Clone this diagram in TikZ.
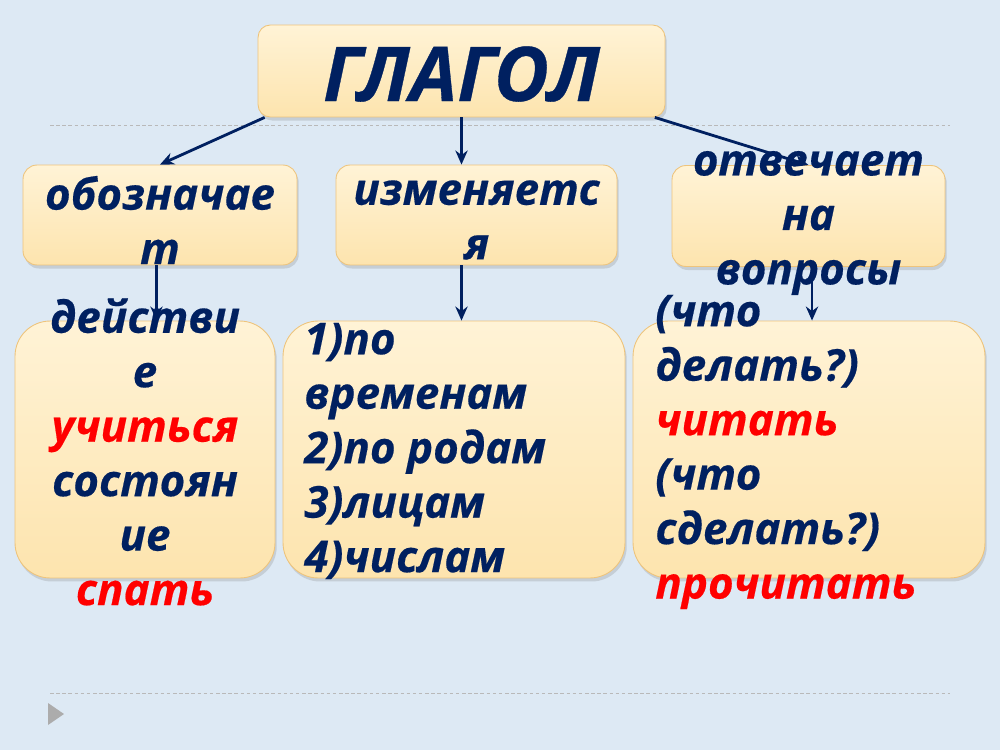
\documentclass[tikz,border=0pt]{standalone}
\usepackage{fontspec}
\setmainfont{Open Sans}
\newfontfamily\heavyfont{Open Sans}[FakeBold=0.4]
\usetikzlibrary{arrows.meta,shadows}

\definecolor{navy}{RGB}{0,32,96}
\definecolor{sky}{RGB}{221,233,244}
\definecolor{creamtop}{RGB}{255,243,214}
\definecolor{creambot}{RGB}{253,228,174}
\definecolor{rim}{RGB}{238,196,124}

\begin{document}
\begin{tikzpicture}[x=0.02cm,y=-0.02cm,
    card/.style={draw=rim, line width=0.5pt, rounded corners=8pt,
      top color=creamtop, bottom color=creambot,
      drop shadow={opacity=0.25, shadow xshift=1pt, shadow yshift=-2pt}},
    word/.style={text=navy, inner sep=0pt,
      font=\fontsize{25}{31}\selectfont\heavyfont\bfseries\itshape},
    arr/.style={navy, line width=1.6pt, -{Stealth[length=8pt,width=7pt]}},
    dots/.style={gray!55, line width=0.5pt, dash pattern=on 2pt off 1.5pt}]
  \fill[sky] (0,0) rectangle (1000,750);
  \useasboundingbox (0,0) rectangle (1000,750);
  \draw[dots] (50,125) -- (950,125);
  \draw[dots] (50,693) -- (950,693);
  \fill[gray!65] (48,703) -- (64,714) -- (48,725) -- cycle;

  % boxes
  \node[card, rounded corners=7pt, minimum width=8.14cm, minimum height=1.84cm] (verb) at (461.5,71) {};
  \node[card, minimum width=5.48cm, minimum height=2cm] (mean) at (160,215) {};
  \node[card, minimum width=5.62cm, minimum height=2cm] (change) at (476.5,215) {};
  \node[card, minimum width=5.46cm, minimum height=2.02cm] (answer) at (808.5,216) {};
  \node[card, rounded corners=20pt, minimum width=5.2cm, minimum height=5.14cm] (act) at (145,449.5) {};
  \node[card, rounded corners=20pt, minimum width=6.84cm, minimum height=5.14cm] (forms) at (454,449.5) {};
  \node[card, rounded corners=20pt, minimum width=7.04cm, minimum height=5.14cm] (quest) at (809,449.5) {};

  % arrows
  \draw[arr] ([xshift=4pt]verb.south west) -- (mean.north);
  \draw[arr] (verb.south) -- (verb.south |- change.north);
  \draw[arr] ([xshift=-6pt]verb.south east) -- (answer.north);
  \draw[arr] ([xshift=-2pt]mean.south) -- ([xshift=-2pt]mean.south |- act.north);
  \draw[arr] (verb.south |- change.south) -- (verb.south |- forms.north);
  \draw[arr] ([xshift=2pt]answer.south) -- ([xshift=2pt]answer.south |- quest.north);

  % texts
  \node[word, font=\fontsize{43}{43}\selectfont\heavyfont\bfseries\itshape] (verbt) at (461.5,74) {ГЛАГОЛ};
  \node[word, align=center] (meant) at (160,220) {обозначае\\т};
  \node[word, align=center] (changet) at (476.5,220) {изменяетс\\я};
  \node[word, align=center] (answert) at (808.5,223) {отвечает\\на\\вопросы};
  \node[word, align=center] (actt) at (145,452) {действи\\е\\\textcolor{red}{учиться}\\состоян\\ие\\\textcolor{red}{спать}};
  \node[word, align=left, anchor=west] (formst) at (304,451) {1)по\\временам\\2)по родам\\3)лицам\\4)числам};
  \node[word, align=left, anchor=west] (questt) at (655,452) {(что\\делать?)\\\textcolor{red}{читать}\\(что\\сделать?)\\\textcolor{red}{прочитать}};
\end{tikzpicture}
\end{document}
